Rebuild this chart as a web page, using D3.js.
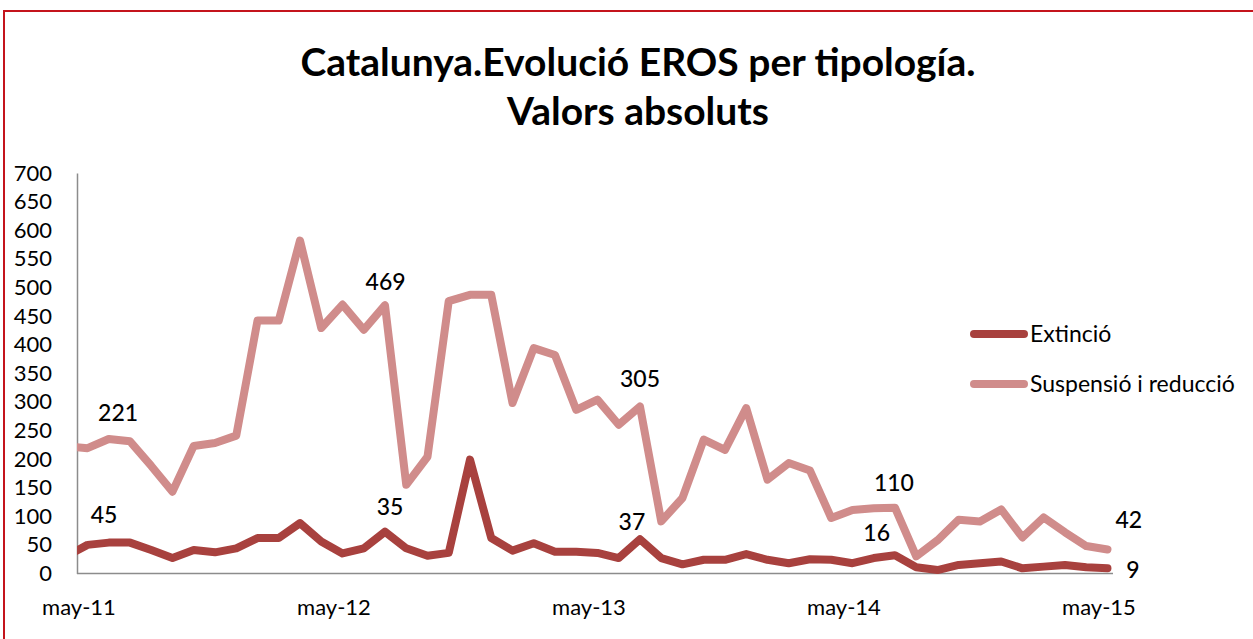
<!DOCTYPE html>
<html>
<head>
<meta charset="utf-8">
<script src="https://cdnjs.cloudflare.com/ajax/libs/d3/7.8.5/d3.min.js"></script>
<style>
  body { margin: 0; background: #ffffff; }
  text { font-family: Lato, "Open Sans", sans-serif; fill: #000; }
</style>
</head>
<body>
<script>

  /*
    DATA
  */

  // Months from abr-11 to may-15 (one point per month)
  var months = [
    "abr-11","may-11","jun-11","jul-11","ago-11","sep-11","oct-11","nov-11","dic-11",
    "ene-12","feb-12","mar-12","abr-12","may-12","jun-12","jul-12","ago-12","sep-12","oct-12","nov-12","dic-12",
    "ene-13","feb-13","mar-13","abr-13","may-13","jun-13","jul-13","ago-13","sep-13","oct-13","nov-13","dic-13",
    "ene-14","feb-14","mar-14","abr-14","may-14","jun-14","jul-14","ago-14","sep-14","oct-14","nov-14","dic-14",
    "ene-15","feb-15","mar-15","abr-15","may-15"
  ];

  // Extinció
  var extincio = [30, 50, 54, 54, 41, 27, 41, 37, 44, 62, 62, 88, 56, 35, 44, 73, 44, 31, 36, 199,
                  62, 40, 53, 38, 38, 36, 27, 60, 27, 16, 24, 24, 34, 24, 18, 25, 24, 18, 27, 32,
                  11, 6, 15, 18, 21, 9, 12, 15, 11, 9];

  // Suspensió i reducció
  var suspensio = [222, 219, 235, 231, 188, 143, 223, 228, 241, 442, 442, 582, 429, 470, 426, 469, 155, 204, 476, 487,
                   487, 298, 394, 382, 286, 304, 260, 292, 91, 132, 234, 216, 289, 164, 193, 180, 97, 111, 114, 115,
                   30, 58, 94, 91, 112, 63, 98, 72, 48, 42];

  var seriesNames = ["Extinció", "Suspensió i reducció"];
  var seriesColors = ["#a8413e", "#d08c8b"];

  // Tick labels
  var yTicks = [0, 50, 100, 150, 200, 250, 300, 350, 400, 450, 500, 550, 600, 650, 700];
  var xTickLabels = ["may-11", "may-12", "may-13", "may-14", "may-15"];

  // Hand placed data labels (text boxes in the original): [month index, level, text]
  var dataLabels = [
    [2.44, 267, "221"], [15.03, 496, "469"], [27.0, 326, "305"], [38.95, 144, "110"], [50.0, 80, "42"],
    [1.78, 88, "45"], [15.24, 102, "35"], [26.62, 76, "37"], [38.14, 57, "16"], [50.2, -8, "9"]
  ];

  /*
    SETUP
  */

  var width = 1253, height = 639;
  var plot = { left: 77, right: 1113, top: 173, bottom: 573.5 };

  var svgContainer = d3.select("body").append("svg")
      .attr("width", width)
      .attr("height", height);

  // Red frame (cut at the right and bottom edges)
  svgContainer.append("rect")
      .attr("x", 4)
      .attr("y", 11)
      .attr("width", 1300)
      .attr("height", 700)
      .style("fill", "none")
      .style("stroke", "#c4141c")
      .style("stroke-width", "2px");

  // Scales
  var xScale = d3.scaleLinear()
      .domain([0.506, 49.26])
      .range([plot.left, plot.right]);

  var yScale = d3.scaleLinear()
      .domain([0, 700])
      .range([plot.bottom, plot.top]);

  // Title
  var title = svgContainer.append("text")
      .style("text-anchor", "middle")
      .style("font-weight", "bold")
      .style("font-size", "39px");
  title.append("tspan").attr("x", 638).attr("y", 76).text("Catalunya.Evolució EROS per tipología.");
  title.append("tspan").attr("x", 638).attr("y", 125).text("Valors absoluts");

  /*
    AXES
  */

  var yAxis = d3.axisLeft(yScale)
      .tickValues(yTicks)
      .tickSize(0)
      .tickPadding(25);

  svgContainer.append("g")
      .attr("transform", "translate(" + plot.left + ",0)")
      .call(yAxis)
      .call(function(g) {
        g.select(".domain").style("stroke", "#8c8c8c").style("stroke-width", "1.5px");
        g.selectAll("text")
            .style("font-family", "Lato, sans-serif")
            .style("font-size", "22px")
            .style("fill", "#000");
      });

  // x axis: plain line, labels at the start of each May
  svgContainer.append("line")
      .attr("x1", plot.left)
      .attr("x2", plot.right)
      .attr("y1", yScale(0))
      .attr("y2", yScale(0))
      .style("stroke", "#8c8c8c")
      .style("stroke-width", "1.5px");

  var mayIdx = months.map(function(m, i) { return m.indexOf("may") === 0 ? i : -1; })
      .filter(function(i) { return i >= 0; });

  svgContainer.selectAll(".xlabel")
      .data(mayIdx)
    .enter().append("text")
      .attr("class", "xlabel")
      .attr("x", function(i) { return xScale(i - 0.4); })
      .attr("y", 615)
      .style("text-anchor", "middle")
      .style("font-size", "22px")
      .text(function(i, j) { return xTickLabels[j]; });

  /*
    LINES
  */

  svgContainer.append("clipPath")
      .attr("id", "plotclip")
    .append("rect")
      .attr("x", plot.left)
      .attr("y", 0)
      .attr("width", width - plot.left)
      .attr("height", height);

  var line = d3.line()
      .x(function(d, i) { return xScale(i); })
      .y(function(d) { return yScale(d); });

  var seriesData = [extincio, suspensio];

  // light series drawn first, dark on top
  [1, 0].forEach(function(s) {
    svgContainer.append("path")
        .datum(seriesData[s])
        .attr("d", line)
        .attr("clip-path", "url(#plotclip)")
        .style("fill", "none")
        .style("stroke", seriesColors[s])
        .style("stroke-width", "8px")
        .style("stroke-linejoin", "round")
        .style("stroke-linecap", "round");
  });

  /*
    DATA LABELS
  */

  svgContainer.selectAll(".dlabel")
      .data(dataLabels)
    .enter().append("text")
      .attr("class", "dlabel")
      .attr("x", function(d) { return xScale(d[0]); })
      .attr("y", function(d) { return yScale(d[1]); })
      .style("text-anchor", "middle")
      .style("font-size", "23px")
      .style("font-weight", "500")
      .text(function(d) { return d[2]; });

  /*
    LEGEND
  */

  seriesNames.forEach(function(name, i) {
    var ly = 334 + i * 50;
    svgContainer.append("line")
        .attr("x1", 974)
        .attr("x2", 1024)
        .attr("y1", ly)
        .attr("y2", ly)
        .style("stroke", seriesColors[i])
        .style("stroke-width", "8px")
        .style("stroke-linecap", "round");
    svgContainer.append("text")
        .attr("x", 1030)
        .attr("y", ly + 8)
        .style("font-size", "23px")
        .text(name);
  });

</script>
</body>
</html>
